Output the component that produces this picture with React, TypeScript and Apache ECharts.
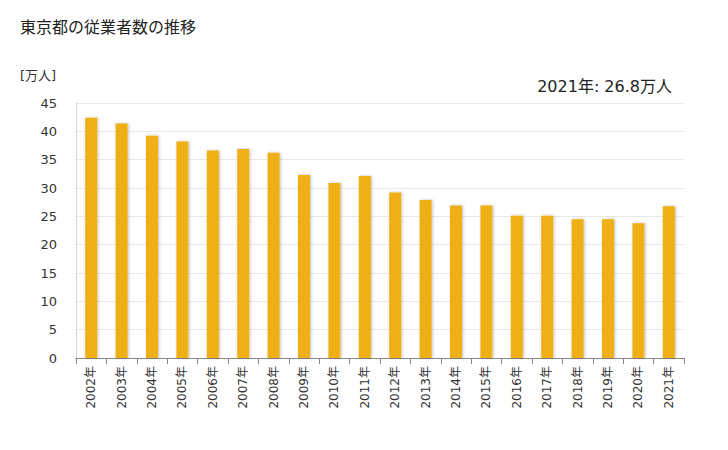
import React, { useEffect, useRef } from "react";
import * as echarts from "echarts";

const years = ["2002年","2003年","2004年","2005年","2006年","2007年","2008年","2009年","2010年","2011年","2012年","2013年","2014年","2015年","2016年","2017年","2018年","2019年","2020年","2021年"];
const workers = [42.4, 41.4, 39.2, 38.2, 36.6, 36.9, 36.2, 32.3, 30.9, 32.1, 29.2, 27.9, 26.9, 26.9, 25.1, 25.1, 24.5, 24.5, 23.8, 26.8];
const titleText = "東京都の従業者数の推移";
const unitText = "[万人]";
const latestText = "2021年: 26.8万人";

export default function App() {
  const ref = useRef<HTMLDivElement>(null);
  useEffect(() => {
    if (!ref.current) return;
    const chart = echarts.init(ref.current, null, { renderer: "svg" });
    const font = "'DejaVu Sans', 'Noto Sans CJK JP', sans-serif";
    chart.setOption({
      animation: false,
      textStyle: { fontFamily: font },
      graphic: [
        { type: "text", left: 12, top: 11, style: { text: titleText, fontSize: 16, fill: "#222", fontFamily: font } },
        { type: "text", left: 12, top: 61, style: { text: unitText, fontSize: 13, fill: "#333", fontFamily: font } },
        { type: "text", right: 48, top: 70, style: { text: latestText, fontSize: 16, fill: "#222", fontFamily: font } },
      ],
      grid: { left: 68, right: 36, top: 95, bottom: 84 },
      xAxis: {
        type: "category",
        data: years,
        axisLine: { lineStyle: { color: "#888" } },
        axisTick: { show: true, length: 6, lineStyle: { color: "#888" } },
        axisLabel: { rotate: 90, fontSize: 12, color: "#333", margin: 8, fontFamily: font },
      },
      yAxis: {
        type: "value",
        min: 0,
        max: 45,
        interval: 5,
        axisLine: { show: true, lineStyle: { color: "#ccc", type: "dotted" } },
        axisTick: { show: false },
        splitLine: { lineStyle: { color: "#e8e8e8" } },
        axisLabel: { fontSize: 13, color: "#333", margin: 19, fontFamily: font },
      },
      series: [
        {
          type: "bar",
          data: workers,
          barWidth: 12,
          itemStyle: {
            color: "#EEB013",
            shadowColor: "rgba(0,0,0,0.25)",
            shadowBlur: 3,
            shadowOffsetX: 1,
            shadowOffsetY: 0,
          },
        },
      ],
    });
    return () => chart.dispose();
  }, []);
  return <div ref={ref} style={{ width: 712, height: 434 }} />;
}
